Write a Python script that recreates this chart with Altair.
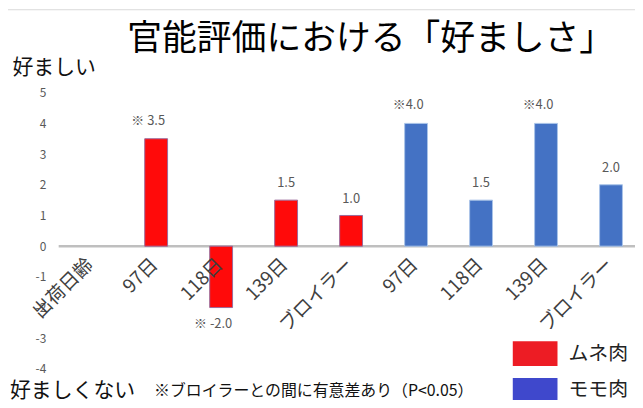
import altair as alt
import pandas as pd

# ---- data ----
categories = ["出荷日齢", "97日", "118日", "139日", "ブロイラー", "97日", "118日", "139日", "ブロイラー"]
series = ["", "ムネ肉", "ムネ肉", "ムネ肉", "ムネ肉", "モモ肉", "モモ肉", "モモ肉", "モモ肉"]
values = [None, 3.5, -2.0, 1.5, 1.0, 4.0, 1.5, 4.0, 2.0]
value_labels = ["", "※ 3.5", "※ -2.0", "1.5", "1.0", "※4.0", "1.5", "※4.0", "2.0"]
significant = [False, True, True, False, False, True, False, True, False]
y_ticks = [-4, -3, -2, -1, 0, 1, 2, 3, 4, 5]
series_names = ["ムネ肉", "モモ肉"]
bar_colors = ["#FF0A0A", "#4472C4"]
bar_edges = ["#9A6A9A", "#A9C4E8"]
legend_colors = ["#ED1C24", "#3F48CC"]

title_text = "官能評価における「好ましさ」"
top_text = "好ましい"
bottom_text = "好ましくない"
note_text = "※ブロイラーとの間に有意差あり（P<0.05）"

FONT = "Noto Sans CJK JP"

df = pd.DataFrame({
    "idx": list(range(len(categories))),
    "category": categories,
    "series": series,
    "value": values,
    "label": value_labels,
    "sig": significant,
})

x_scale = alt.Scale(domain=[-0.5, 8.369], nice=False, zero=False, padding=0)
y_scale = alt.Scale(domain=[-4, 5], nice=False, zero=False, padding=0)

y_axis = alt.Axis(values=y_ticks, tickCount=10, labelExpr="'' + datum.value", domain=False, ticks=False, grid=False,
                  labelOverlap=False, labelFlush=False,
                  labelColor="#595959", labelFontSize=12, labelFont=FONT, labelPadding=13,
                  title=top_text, titleAngle=0, titleAlign="left", titleBaseline="alphabetic",
                  titleX=-47, titleY=-19, titleFontSize=21, titleFontWeight="normal",
                  titleColor="#111111", titleFont=FONT)
x_axis = None

base = alt.Chart(df)

bars = base.transform_filter("isValid(datum.value)").mark_bar(width=23, strokeWidth=1).encode(
    x=alt.X("idx:Q", scale=x_scale, axis=x_axis),
    y=alt.Y("value:Q", scale=y_scale, axis=y_axis),
    color=alt.Color("series:N", scale=alt.Scale(domain=series_names, range=bar_colors), legend=None),
    stroke=alt.Stroke("series:N", scale=alt.Scale(domain=series_names, range=bar_edges), legend=None),
)

one = base.transform_filter("datum.idx == 0")

zero_line = one.mark_rule(color="#BFBFBF", strokeWidth=2.5).encode(
    y=alt.datum(0),
    x=alt.value(0),
    x2=alt.value(580),
)

frame_top = one.mark_rule(color="#D9D9D9", strokeWidth=1).encode(
    x=alt.value(-51), x2=alt.value(580), y=alt.value(-83.5),
)

cat_labels = base.mark_text(angle=315, align="right", baseline="middle", dx=-12, dy=10,
                            fontSize=19, font=FONT, color="#404040").encode(
    x=alt.X("idx:Q", scale=x_scale, axis=x_axis),
    y=alt.datum(0),
    text="category:N",
)

lab_common = dict(fontSize=13, font=FONT, color="#595959", baseline="middle", align="center")
def value_text(filt, **kw):
    return base.transform_filter(filt).mark_text(**lab_common, **kw).encode(
        x=alt.X("idx:Q", scale=x_scale, axis=x_axis),
        y=alt.Y("value:Q", scale=y_scale, axis=y_axis),
        text="label:N",
    )

pos_plain = value_text("isValid(datum.value) && datum.value > 0 && !datum.sig", dy=-17)
pos_sig = value_text("isValid(datum.value) && datum.value > 0 && datum.sig", dy=-18, dx=-8)
neg_sig = value_text("isValid(datum.value) && datum.value < 0", dy=17, dx=-8)

title_mark = one.mark_text(text=title_text, fontSize=35, font=FONT, color="#000000",
                           align="center", baseline="alphabetic").encode(x=alt.value(314), y=alt.value(-43))
bottom_mark = one.mark_text(text=bottom_text, fontSize=21, font=FONT, color="#111111",
                            align="left", baseline="alphabetic").encode(x=alt.value(-49), y=alt.value(306))
note_mark = one.mark_text(text=note_text, fontSize=16, font=FONT, color="#111111",
                          align="left", baseline="alphabetic").encode(x=alt.value(96), y=alt.value(305))

legend_df = pd.DataFrame({"series": series_names})
legend_layer = alt.Chart(legend_df).mark_point(opacity=0, filled=True).encode(
    color=alt.Color("series:N", scale=alt.Scale(domain=series_names, range=legend_colors),
                    legend=alt.Legend(title=None, orient="none", legendX=467, legendY=250,
                                      symbolType="M-1.8,-1H1.8V1H-1.8Z", symbolSize=625,
                                      symbolOpacity=1, symbolStrokeWidth=0, labelOffset=21,
                                      rowPadding=12, labelFontSize=20, labelFont=FONT,
                                      labelColor="#222222", padding=0)),
)

chart = alt.layer(
    frame_top, zero_line, bars, cat_labels, pos_plain, pos_sig, neg_sig,
    title_mark, bottom_mark, note_mark, legend_layer,
).resolve_scale(color="independent", stroke="independent").properties(
    width=580, height=278,
    padding={"left": 51, "top": 84, "right": 0, "bottom": 30},
    autosize=alt.AutoSizeParams(type="none"),
    background="white",
).configure_view(stroke=None)

chart.save("out.html", embed_options={"renderer": "svg", "actions": False})
